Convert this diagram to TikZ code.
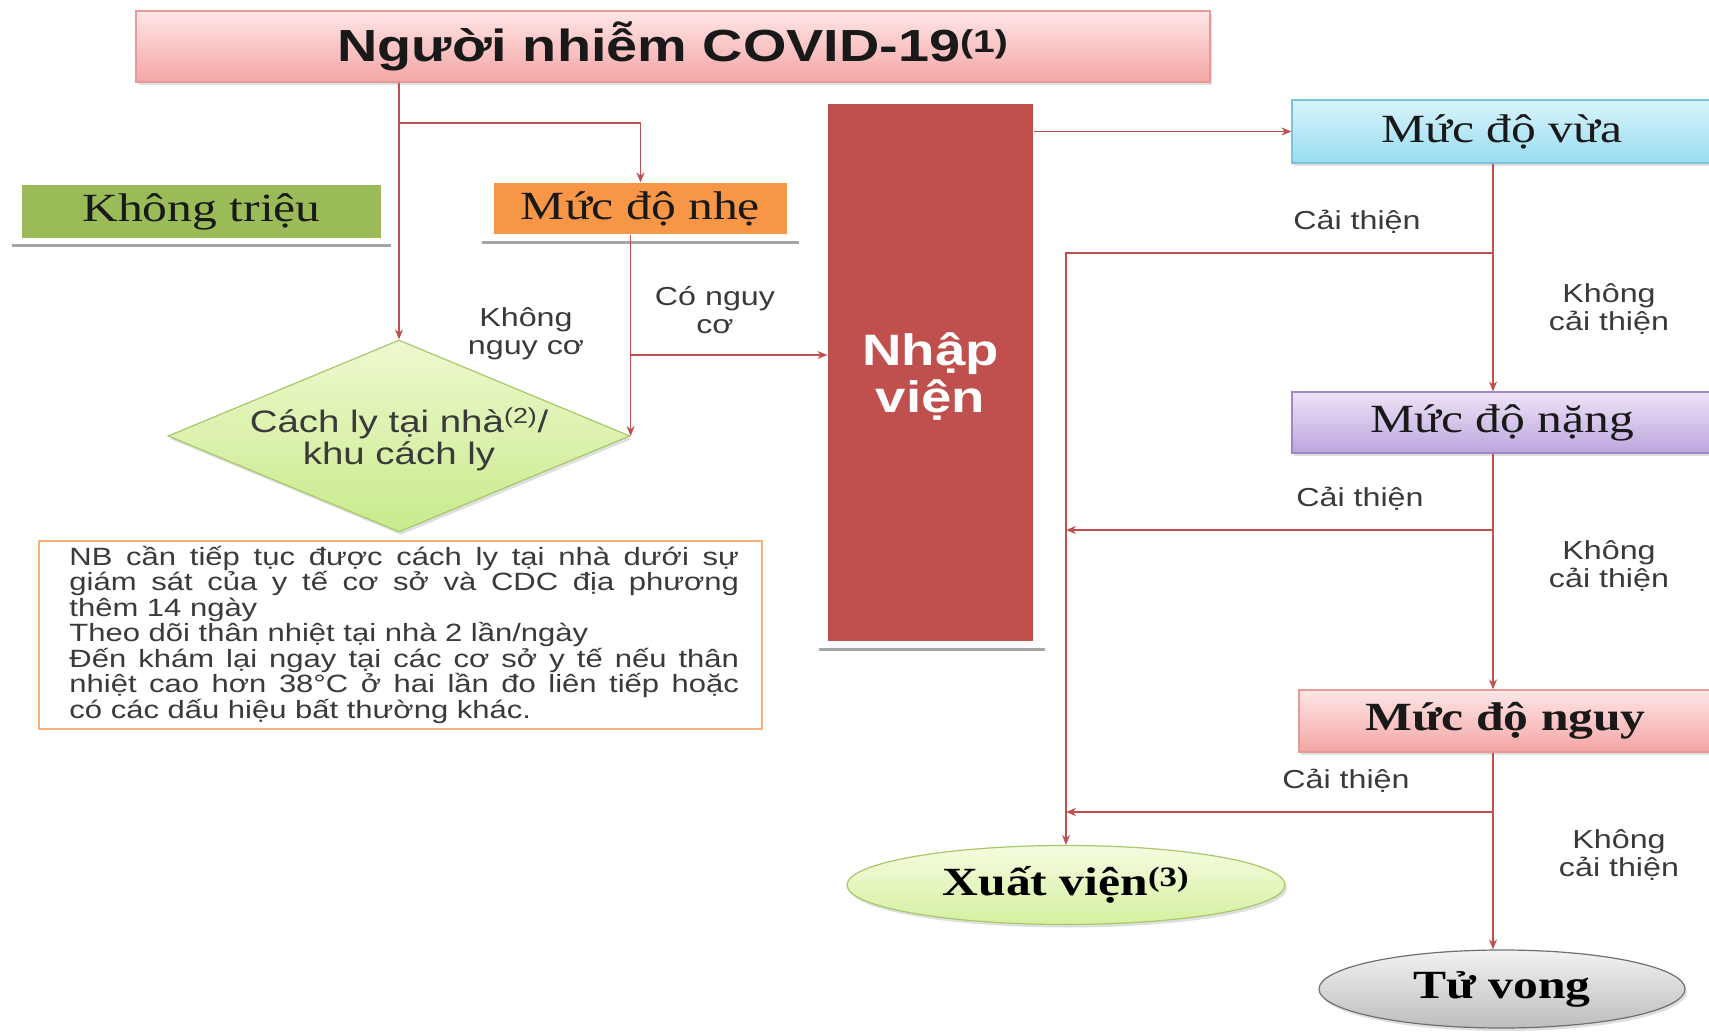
\documentclass[tikz,border=0pt]{standalone}
\usepackage{fontspec}
\usepackage{graphicx}
\setmainfont{Liberation Serif}
\setsansfont{Liberation Sans}
\newfontfamily\arialf{Liberation Sans}
\usetikzlibrary{shapes.geometric,arrows.meta,shadows,calc}
\newcommand{\W}[1]{\scalebox{1.24}[1]{#1}}
\newcommand{\twol}[2]{\W{\begin{tabular}{@{}c@{}}#1\\#2\end{tabular}}}
\definecolor{lnred}{HTML}{C0504D}
\definecolor{pinkT}{HTML}{FFE6E6}
\definecolor{pinkB}{HTML}{F4A5A5}
\definecolor{pinkD}{HTML}{E39A98}
\definecolor{olive}{HTML}{9BBB59}
\definecolor{orng}{HTML}{F79646}
\definecolor{nvred}{HTML}{C0504D}
\definecolor{cyanT}{HTML}{D8F4FB}
\definecolor{cyanB}{HTML}{98DCF0}
\definecolor{cyanD}{HTML}{7CC3DA}
\definecolor{purT}{HTML}{EDE3F7}
\definecolor{purB}{HTML}{BCA6DD}
\definecolor{purD}{HTML}{9E88C6}
\definecolor{grnT}{HTML}{F5FCE0}
\definecolor{grnB}{HTML}{D4F0A0}
\definecolor{grnD}{HTML}{A8C86A}
\definecolor{dT}{HTML}{EEF9CF}
\definecolor{dB}{HTML}{C9EA8C}
\definecolor{gryT}{HTML}{F2F2F2}
\definecolor{gryB}{HTML}{BDBDBD}
\definecolor{gryD}{HTML}{6F6F6F}
\definecolor{tbo}{HTML}{F5B27E}
\definecolor{lbl}{HTML}{3A3A3A}
\definecolor{shd}{HTML}{A6A6A6}
\tikzset{
  box/.style={rectangle, inner sep=0pt, line width=1.2pt, text=black!90},
  shadowed/.style={drop shadow={shadow xshift=2pt, shadow yshift=-3pt, opacity=0.25}},
  arr/.style={draw=lnred, line width=1.4pt, -{Stealth[length=10pt,width=8pt]}},
  lab/.style={font=\arialf\fontsize{26}{28}\selectfont, text=lbl, inner sep=0pt},
  serifbox/.style={font=\fontsize{40}{44}\selectfont},
  serifbold/.style={font=\bfseries\fontsize{40}{44}\selectfont},
  shadowline/.style={draw=shd, line width=3pt},
}
\begin{document}
\begin{tikzpicture}[x=1pt,y=-1pt]
\useasboundingbox[fill=white] (0,0) rectangle (1709,1032);

% nodes
\node[box, shadowed, top color=pinkT, bottom color=pinkB, draw=pinkD,
  minimum width=1074pt, minimum height=71pt,
  font=\arialf\bfseries\fontsize{45}{50}\selectfont] (top) at (673,46.5)
  {\W{Người nhiễm COVID-19\textsuperscript{(1)}}};

\node[box, fill=olive, minimum width=359pt, minimum height=53pt, serifbox] (kt) at (201.5,211.5) {\W{Không triệu}};
\node[box, fill=orng, minimum width=293pt, minimum height=51pt, serifbox] (nhe) at (640.5,208.5) {\W{Mức độ nhẹ}};
\node[box, fill=nvred, minimum width=205pt, minimum height=537pt, text=white,
  font=\arialf\bfseries\fontsize{44}{46}\selectfont] (nv) at (930.5,372.5) {\raisebox{-7pt}[\height][\depth]{\twol{Nhập}{viện}}};

\node[box, shadowed, top color=cyanT, bottom color=cyanB, draw=cyanD, minimum width=420pt, minimum height=63pt, serifbox] (vua) at (1502,131.5) {\W{Mức độ vừa}};
\node[box, shadowed, top color=purT, bottom color=purB, draw=purD, minimum width=420pt, minimum height=61pt, serifbox] (nang) at (1502,422.5) {\W{Mức độ nặng}};
\node[box, shadowed, top color=pinkT, bottom color=pinkB, draw=pinkD, minimum width=413pt, minimum height=62pt, serifbold] (nguy) at (1505.5,721) {\W{Mức độ nguy}};

\node[ellipse, shadowed, inner sep=0pt, line width=1.2pt, top color=grnT, bottom color=grnB, draw=grnD, minimum width=438pt, minimum height=79pt, serifbold] (xv) at (1066,885) {\W{Xuất viện\textsuperscript{(3)}}};
\node[ellipse, shadowed, inner sep=0pt, line width=1.2pt, top color=gryT, bottom color=gryB, draw=gryD, minimum width=366pt, minimum height=78pt, serifbold] (tu) at (1502,989) {\W{Tử vong}};

\node[diamond, shape aspect=2.4, inner sep=0pt, shadowed, line width=1.2pt, top color=dT, bottom color=dB, draw=grnD,
  minimum width=462pt, minimum height=192pt, text=lbl,
  font=\arialf\fontsize{31}{31}\selectfont] (dia) at (399,436)
  {\raisebox{-5pt}[\height][\depth]{\twol{Cách ly tại nhà\textsuperscript{(2)}/}{khu cách ly}}};

\node[box, draw=tbo, fill=white, line width=1.5pt, anchor=north west, minimum width=723pt, minimum height=188pt, text=lbl] (tb) at (38,540)
  {\hspace{8pt}\W{\parbox{540pt}{\arialf\fontsize{25}{25.5}\selectfont
  NB cần tiếp tục được cách ly tại nhà dưới sự\linebreak
  giám sát của y tế cơ sở và CDC địa phương\linebreak
  thêm 14 ngày\par
  Theo dõi thân nhiệt tại nhà 2 lần/ngày\par
  Đến khám lại ngay tại các cơ sở y tế nếu thân\linebreak
  nhiệt cao hơn 38°C ở hai lần đo liên tiếp hoặc\linebreak
  có các dấu hiệu bất thường khác.\par}}};

% shadow lines
\draw[shadowline] ([xshift=-9pt,yshift=-7pt]kt.south west) -- ([xshift=9pt,yshift=-7pt]kt.south east);
\draw[shadowline] ([xshift=-11pt,yshift=-8pt]nhe.south west) -- ([xshift=11pt,yshift=-8pt]nhe.south east);
\draw[shadowline] ([xshift=-8pt,yshift=-8pt]nv.south west) -- ([xshift=11pt,yshift=-8pt]nv.south east);

% connectors
\coordinate (b1) at (399,123);
\coordinate (c1) at (630,355);
\coordinate (sp) at (1493,0);
\coordinate (j1) at (1493,253);
\coordinate (j2) at (1493,530);
\coordinate (j3) at (1493,812);

\draw[arr] (top.south -| dia.north) -- (dia.north);
\draw[arr] (b1) -| (nhe.north);
\draw[arr] (nhe.south -| dia.east) -- (dia.east);
\draw[arr] (c1) -- (c1 -| nv.west);
\draw[arr] (nv.east |- vua.west) -- (vua.west);
\draw[arr] (vua.south -| sp) -- (nang.north -| sp);
\draw[arr] (nang.south -| sp) -- (nguy.north -| sp);
\draw[arr] (nguy.south -| sp) -- (tu.north -| sp);
\draw[arr] (j1) -| (xv.north);
\draw[arr] (j2) -- (j2 -| xv.north);
\draw[arr] (j3) -- (j3 -| xv.north);

% labels
\node[lab] (lkn) at (526,335) {\twol{Không}{nguy cơ}};
\node[lab] (lcn) at (715,314) {\twol{Có nguy}{cơ}};
\node[lab] (lc1) at (1357,222) {\W{Cải thiện}};
\node[lab] (lc2) at (1360,499) {\W{Cải thiện}};
\node[lab] (lc3) at (1346,781) {\W{Cải thiện}};
\node[lab] (lk1) at (1609,311) {\twol{Không}{cải thiện}};
\node[lab] (lk2) at (1609,568) {\twol{Không}{cải thiện}};
\node[lab] (lk3) at (1619,857) {\twol{Không}{cải thiện}};
\end{tikzpicture}
\end{document}
